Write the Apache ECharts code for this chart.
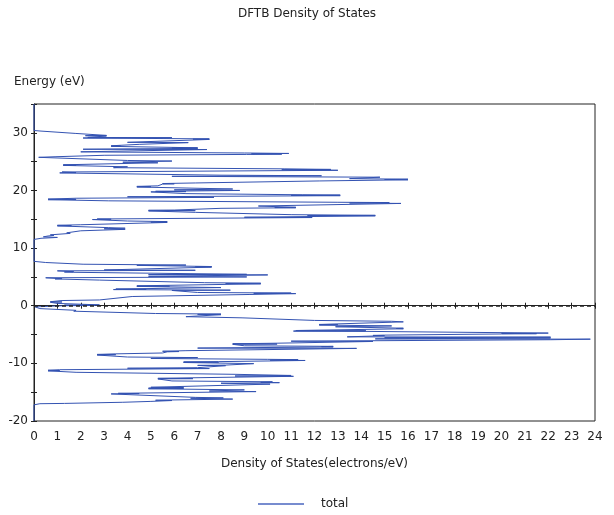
<!DOCTYPE html>
<html>
<head>
<meta charset="utf-8">
<title>DFTB Density of States</title>
<script src="https://cdn.jsdelivr.net/npm/echarts@6/dist/echarts.min.js"></script>
<style>
  html, body { margin: 0; padding: 0; background: #fff; }
  #chart { width: 614px; height: 515px; }
</style>
</head>
<body>
<div id="chart"></div>
<script>
// Total density of states, sampled in order of increasing energy (eV).
// Lower valence band
const energyLow = [-20, -17.2, -17.0, -16.95, -16.75, -16.6, -16.45, -16.4, -16.35, -16.2, -16.05,
  -16.0, -15.9, -15.3, -15.25, -15.2, -14.9, -14.8, -14.6, -14.4, -14.35, -14.3, -14.2, -14.15,
  -13.6, -13.45, -13.35, -13.3, -13.2, -13.05, -12.7, -12.65, -12.6, -12.5, -12.25, -12.2, -12.1,
  -11.9, -11.55, -11.3, -11.25, -11.2, -11.1, -10.9, -10.85, -10.75, -10.45, -10.4, -10.35, -10.3,
  -10.05, -9.85, -9.8, -9.75, -9.7, -9.5, -9.45, -9.35, -9.3, -9.15, -9.0, -8.9, -8.55, -8.5,
  -8.45, -8.35, -8.2, -8.0, -7.95, -7.9, -7.8, -7.4, -7.35, -7.15, -7.1, -7.05, -6.95, -6.7,
  -6.65, -6.6, -6.5, -6.2, -6.15, -5.9, -5.8, -5.75, -5.6, -5.55, -5.45, -5.4, -5.2, -5.15,
  -5.1, -4.9, -4.85, -4.8, -4.75, -4.45, -4.4, -4.35, -4.3, -4.0, -3.95, -3.9, -3.65, -3.5,
  -3.35, -3.3, -3.25, -2.8, -2.7, -2.55, -2.1, -1.9, -1.55, -1.5, -1.45, -1.35, -0.95, -0.8,
  -0.5, -0.2];
const dosLow = [0, 0, 0.25, 1.3, 3.8, 5.0, 5.9, 5.2, 5.9, 8.5, 6.7,
  8.1, 6.9, 3.3, 4.5, 3.6, 9.5, 7.5, 9.0, 4.9, 6.4, 4.9, 6.4, 5.0,
  10.1, 8.0, 10.5, 9.7, 10.2, 5.9, 5.3, 6.8, 5.3, 6.8, 11.1, 8.6, 11.0,
  8.6, 1.8, 0.6, 1.1, 0.6, 1.1, 7.5, 4.0, 7.0, 7.0, 8.2, 7.0, 8.2,
  9.4, 6.4, 7.9, 6.4, 7.9, 11.6, 10.1, 11.3, 10.0, 5.0, 7.0, 4.0, 2.7, 3.5,
  2.7, 3.5, 5.5, 5.7, 6.2, 5.5, 6.5, 13.8, 7.0, 12.8, 12.3, 12.8, 9.0, 8.5,
  10.4, 8.5, 10.4, 14.5, 11.0, 22.1, 23.8, 14.6, 22.1, 15.0, 22.1, 13.4, 15.0, 14.5,
  15.0, 20.0, 21.5, 20.0, 22.0, 14.2, 11.1, 14.2, 11.2, 15.8, 15.5, 15.8, 12.9, 15.3,
  12.2, 13.0, 12.2, 15.8, 15.3, 12.0, 8.9, 6.5, 8.0, 7.0, 8.0, 5.2, 1.7, 1.8,
  0.25, 0.05];

// Upper valence band around the Fermi level
const energyMid = [0.0, 0.05, 0.1, 0.15, 0.4, 0.6, 0.65, 0.7, 0.9, 1.0, 1.6, 1.95, 2.1, 2.15,
  2.2, 2.3, 2.65, 2.7, 2.8, 2.85, 2.9, 3.15, 3.35, 3.4, 3.45, 3.8, 3.85, 3.9, 4.0, 4.45, 4.65,
  4.7, 4.75, 4.85, 5.0, 5.1, 5.35, 5.4, 5.45, 5.8, 5.85, 5.9, 6.05, 6.15, 6.2, 6.7, 6.75, 6.8,
  7.0, 7.05, 7.2, 7.5, 7.7];
const dosMid = [1.25, 2.6, 1.3, 2.8, 1.0, 0.7, 1.2, 0.7, 1.2, 2.8, 4.2, 9.2, 11.2, 9.4,
  11.0, 7.0, 5.9, 8.4, 3.4, 4.8, 3.5, 8.0, 4.4, 5.8, 4.4, 9.7, 8.2, 9.7, 7.3, 2.8, 0.9,
  1.2, 0.9, 0.5, 9.1, 4.9, 10.0, 4.9, 9.1, 1.7, 1.3, 1.7, 1.0, 6.9, 3.0, 7.6, 6.9, 7.6,
  4.4, 6.5, 2.1, 0.5, 0];

// Conduction band
const energyHigh = [11.5, 11.7, 11.85, 11.95, 12.1, 12.2, 12.3, 12.55, 12.65, 13.0, 13.25, 13.35,
  13.45, 13.55, 13.85, 13.9, 13.95, 14.05, 14.45, 14.5, 14.6, 14.7, 14.95, 15.0, 15.05, 15.3,
  15.35, 15.6, 15.63, 15.68, 15.8, 16.2, 16.45, 16.5, 16.55, 16.6, 16.9, 17.0, 17.03, 17.08, 17.3,
  17.75, 17.82, 17.9, 17.95, 18.2, 18.4, 18.45, 18.5, 18.65, 18.8, 18.9, 19.1, 19.15, 19.2, 19.25,
  19.45, 19.75, 19.8, 19.85, 20.0, 20.1, 20.25, 20.6, 20.65, 20.7, 20.8, 21.1, 21.15, 21.2, 21.3,
  21.65, 21.85, 21.9, 21.95, 22.05, 22.3, 22.45, 22.55, 22.65, 23.0, 23.05, 23.1, 23.2, 23.5,
  23.6, 23.65, 23.75, 23.95, 24.1, 24.35, 24.4, 24.45, 24.8, 24.9, 25.1, 25.2, 25.75, 25.85,
  26.1, 26.25, 26.3, 26.35, 26.42, 26.5, 26.7, 27.1, 27.15, 27.3, 27.35, 27.4, 27.65, 27.7, 27.75,
  28.0, 28.3, 28.35, 28.85, 28.9, 28.95, 29.1, 29.15, 29.2, 29.45, 29.5, 29.55, 29.9, 30.3, 30.4,
  35];
const dosHigh = [0, 0.3, 1.0, 0.4, 0.6, 0.85, 0.7, 1.55, 1.4, 2.0, 3.9, 3.0,
  3.9, 3.2, 1.0, 1.6, 1.0, 2.0, 5.7, 5.0, 5.7, 4.0, 2.5, 3.3, 2.7, 11.9,
  9.0, 14.6, 11.7, 14.6, 11.0, 6.9, 4.9, 6.9, 4.9, 6.0, 8.0, 11.2, 10.3, 11.2, 9.6,
  15.7, 13.5, 15.2, 13.0, 3.2, 0.6, 1.8, 0.6, 1.8, 7.7, 4.0, 13.1, 11.0, 13.1, 11.5,
  6.5, 5.0, 6.5, 5.2, 8.8, 6.0, 8.5, 4.4, 5.0, 4.4, 5.3, 5.5, 6.0, 5.5, 6.9,
  12.2, 16.0, 15.0, 16.0, 13.5, 14.8, 5.9, 12.3, 8.0, 1.8, 1.1, 1.8, 1.2, 13.0,
  10.6, 12.7, 10.7, 3.4, 4.0, 1.25, 1.8, 1.25, 5.3, 3.8, 5.9, 4.0, 0.2, 0.9,
  3.0, 9.1, 10.6, 9.3, 10.9, 9.0, 2.0, 7.4, 2.1, 7.0, 5.9, 7.0, 3.3, 3.7, 3.3,
  4.5, 6.6, 4.0, 7.5, 6.8, 7.5, 2.1, 5.9, 2.3, 3.1, 2.2, 3.1, 1.76, 0.3, 0,
  0];

const xTicks = [0, 24, 1];      // density axis: min, max, step
const yTicks = [-20, 35, 5];    // energy axis: min, max, step
const fermiLevel = 0;

const energy = energyLow.concat(energyMid, energyHigh);
const dos = dosLow.concat(dosMid, dosHigh);
const totalData = energy.map((e, i) => [dos[i], e]);

const font = 'DejaVu Sans';
const axisColor = '#222';
const textColor = '#222';
const chart = echarts.init(document.getElementById('chart'), null, { renderer: 'canvas' });

const yBase = { type: 'value', min: yTicks[0], max: yTicks[1], interval: yTicks[2], splitLine: { show: false } };
const xBase = { type: 'value', min: xTicks[0], max: xTicks[1], interval: xTicks[2], splitLine: { show: false } };

chart.setOption({
  animation: false,
  title: {
    text: 'DFTB Density of States',
    left: 'center', top: 3,
    textStyle: { fontFamily: font, fontSize: 12, fontWeight: 'normal', color: textColor }
  },
  graphic: [{
    type: 'text', left: 14, top: 76,
    style: { text: 'Energy (eV)', font: '12px "DejaVu Sans"', fill: textColor }
  }],
  grid: { left: 34, right: 19, top: 104, bottom: 94, show: true, borderColor: axisColor, borderWidth: 1 },
  legend: {
    bottom: 0, left: 253,
    icon: 'rect',
    itemWidth: 46, itemHeight: 1.5,
    textStyle: { fontFamily: font, fontSize: 12, color: textColor, padding: [0, 0, 0, 12] },
    data: ['total']
  },
  xAxis: [
    Object.assign({}, xBase, {
      name: 'Density of States(electrons/eV)', nameLocation: 'middle', nameGap: 37,
      nameTextStyle: { fontFamily: font, fontSize: 12, color: textColor },
      axisLine: { lineStyle: { color: axisColor } },
      axisTick: { length: 3, lineStyle: { color: axisColor } },
      axisLabel: { fontFamily: font, fontSize: 12, color: textColor, margin: 10 }
    }),
    Object.assign({}, xBase, {
      position: 'bottom',
      axisLine: { show: false },
      axisTick: { inside: true, length: 3, lineStyle: { color: axisColor } },
      axisLabel: { show: false }
    })
  ],
  yAxis: [
    Object.assign({}, yBase, {
      axisLine: { lineStyle: { color: axisColor } },
      axisTick: { length: 3, lineStyle: { color: axisColor } },
      axisLabel: {
        fontFamily: font, fontSize: 12, color: textColor, margin: 6,
        formatter: v => (v % 10 === 0 ? String(v) : '')
      }
    }),
    Object.assign({}, yBase, {
      position: 'left',
      axisLine: { show: false },
      axisTick: { inside: true, length: 3, lineStyle: { color: axisColor } },
      axisLabel: { show: false }
    })
  ],
  series: [{
    name: 'total',
    type: 'line',
    data: totalData,
    symbol: 'none',
    lineStyle: { color: '#3453b2', width: 1 },
    itemStyle: { color: '#4a66bf' },
    markLine: {
      silent: true,
      symbol: 'none',
      label: { show: false },
      lineStyle: { color: '#222', type: [4, 3], width: 1.5 },
      data: [{ yAxis: fermiLevel }]
    }
  }]
});
</script>
</body>
</html>
